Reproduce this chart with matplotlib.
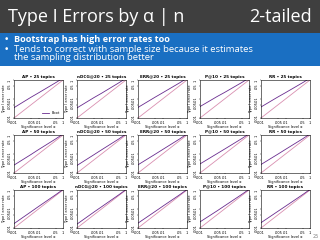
import numpy as np
import matplotlib
matplotlib.use("Agg")
import matplotlib.pyplot as plt
from matplotlib.patches import Rectangle

# significance levels and observed type I error rates (bootstrap test)
alphas = [0.001, 0.005, 0.01, 0.05, 0.1]
metrics = ["AP", "nDCG@20", "ERR@20", "P@10", "RR"]
topics = [25, 50, 100]

boot_25 = {
    "AP": [0.0035, 0.0125, 0.021, 0.072, 0.125],
    "nDCG@20": [0.0034, 0.012, 0.020, 0.070, 0.123],
    "ERR@20": [0.0036, 0.0125, 0.021, 0.071, 0.124],
    "P@10": [0.0040, 0.0135, 0.022, 0.073, 0.126],
    "RR": [0.0038, 0.013, 0.0215, 0.072, 0.125],
}
boot_50 = {
    "AP": [0.0026, 0.0095, 0.017, 0.062, 0.113],
    "nDCG@20": [0.0025, 0.0093, 0.0165, 0.061, 0.112],
    "ERR@20": [0.0027, 0.0097, 0.017, 0.062, 0.113],
    "P@10": [0.0030, 0.0105, 0.018, 0.064, 0.115],
    "RR": [0.0028, 0.010, 0.0175, 0.063, 0.114],
}
boot_100 = {
    "AP": [0.0017, 0.0072, 0.0135, 0.056, 0.106],
    "nDCG@20": [0.0016, 0.0070, 0.013, 0.055, 0.105],
    "ERR@20": [0.0018, 0.0074, 0.0137, 0.056, 0.106],
    "P@10": [0.0021, 0.0080, 0.0145, 0.058, 0.108],
    "RR": [0.0019, 0.0077, 0.014, 0.057, 0.107],
}
boot_rates = {25: boot_25, 50: boot_50, 100: boot_100}

tick_vals = [0.001, 0.005, 0.01, 0.05, 0.1]
tick_labels = [".001", ".005", ".01", ".05", ".1"]

W, H = 320, 240
fig = plt.figure(figsize=(W / 100, H / 100), dpi=100)
fig.patch.set_facecolor("white")

# slide header
fig.patches.append(Rectangle((0, 1 - 33 / H), 1, 33 / H, transform=fig.transFigure,
                             facecolor="#3f3f3f", edgecolor="none", zorder=0))
fig.patches.append(Rectangle((0, 1 - 66 / H), 1, 33 / H, transform=fig.transFigure,
                             facecolor="#1a6fc2", edgecolor="none", zorder=0))
fig.text(8 / W, 1 - 17 / H, "Type I Errors by α | n", color="white", fontsize=13,
         va="center", ha="left", family="Open Sans")
fig.text(312 / W, 1 - 17 / H, "2-tailed", color="white", fontsize=13,
         va="center", ha="right", family="Open Sans")
fig.text(4 / W, 1 - 40 / H, "•", color="white", fontsize=6.5, va="center")
fig.text(14 / W, 1 - 40 / H, "Bootstrap has high error rates too", color="white",
         fontsize=6.6, fontweight="bold", va="center", family="Open Sans")
fig.text(4 / W, 1 - 49 / H, "•", color="white", fontsize=6.5, va="center")
fig.text(14 / W, 1 - 49 / H, "Tends to correct with sample size because it estimates",
         color="white", fontsize=6.8, va="center", family="Open Sans")
fig.text(14 / W, 1 - 58 / H, "the sampling distribution better",
         color="white", fontsize=6.8, va="center", family="Open Sans")
fig.text(319 / W, 1 - 237 / H, "25", color="#808080", fontsize=3.5, ha="right", va="center")

# grid of small panels (pixel positions)
col_left = [14, 77, 138, 200, 261]
row_top = [80, 135, 190]
aw, ah = 49, 38

for r, n in enumerate(topics):
    for c, m in enumerate(metrics):
        ax = fig.add_axes([col_left[c] / W, 1 - (row_top[r] + ah) / H, aw / W, ah / H])
        ax.plot(alphas, alphas, color="#d98fb0", lw=0.6)
        ax.plot(alphas, boot_rates[n][m], color="#6a2c8f", lw=0.6, label="Boot")
        ax.set_xscale("log")
        ax.set_yscale("log")
        ax.set_xlim(0.001, 0.1)
        ax.set_ylim(0.001, 0.1)
        ax.set_xticks(tick_vals)
        ax.set_xticklabels(tick_labels)
        ax.set_yticks(tick_vals)
        ax.set_yticklabels(tick_labels, rotation=90, va="center")
        ax.minorticks_off()
        ax.tick_params(labelsize=2.5, length=1, width=0.3, pad=1)
        for s in ax.spines.values():
            s.set_linewidth(0.4)
        ax.set_title(f"{m} • {n} topics", fontsize=3, fontweight="bold", pad=1.5)
        ax.set_xlabel("Significance level α", fontsize=2.5, labelpad=0.5)
        ax.set_ylabel("Type I error rate", fontsize=2.5, labelpad=0.5)
        if r == 0 and c == 0:
            ax.legend(loc="lower right", fontsize=2.5, frameon=False, handlelength=2)

fig.savefig("out.png", dpi=100)
